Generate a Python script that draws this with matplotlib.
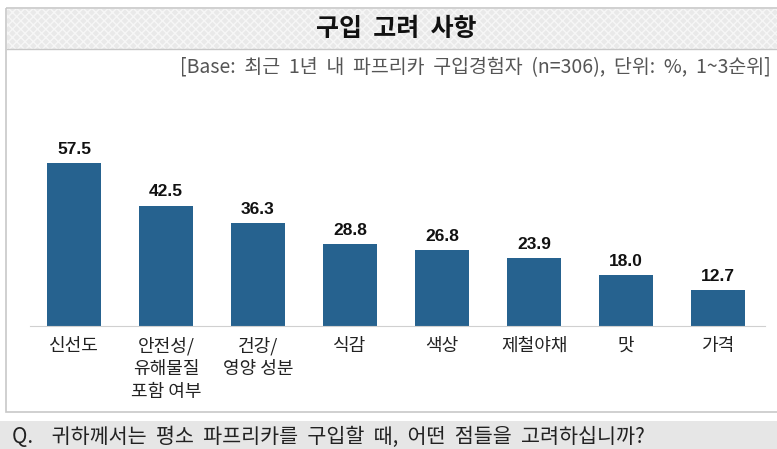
import matplotlib.pyplot as plt
from matplotlib.patches import Rectangle

# Chart data
categories = ['신선도', '안전성/\n유해물질\n포함 여부', '건강/\n영양 성분', '식감', '색상', '제철야채', '맛', '가격']
values = [57.5, 42.5, 36.3, 28.8, 26.8, 23.9, 18.0, 12.7]

title = '구입  고려  사항'
subtitle = '[Base:  최근  1년  내  파프리카  구입경험자  (n=306),  단위:  %,  1~3순위]'
question = 'Q.    귀하께서는  평소  파프리카를  구입할  때,  어떤  점들을  고려하십니까?'

plt.rcParams['font.family'] = ['Noto Sans CJK KR', 'DejaVu Sans']
bar_color = '#26628f'

W, H = 777, 449
fig = plt.figure(figsize=(W / 100, H / 100), dpi=100)

# helper: pixel rect (top-left origin) -> figure fraction
def frac(x0, y0, x1, y1):
    return [x0 / W, 1 - y1 / H, (x1 - x0) / W, (y1 - y0) / H]

# background decoration
bg = fig.add_axes([0, 0, 1, 1])
bg.set_xlim(0, W)
bg.set_ylim(H, 0)
bg.axis('off')
bg.add_patch(Rectangle((6, 8), 780, 404, fill=False, edgecolor='#c8c8c8', lw=1.2))
bg.add_patch(Rectangle((7, 9), 780, 40, facecolor='#e9e9e9', edgecolor='#f6f6f6',
                       hatch='xxxx', lw=0))
bg.plot([7, 777], [49, 49], color='#c8c8c8', lw=1)
bg.add_patch(Rectangle((0, 421), W, 30, facecolor='#e6e6e6', edgecolor='none'))
bg.text(396, 29, title, ha='center', va='center', fontsize=18, fontweight='bold', color='#111111')
bg.text(771, 68, subtitle, ha='right', va='center', fontsize=14, color='#555555')
bg.text(12, 437, question, ha='left', va='center', fontsize=14.9, color='#222222')

# bar chart
ax = fig.add_axes(frac(30, 326 - 70 * 2.835, 765, 326))
x = list(range(len(values)))
ax.bar(x, values, width=0.58, color=bar_color)
ax.set_xlim(-0.478, 7.51)
ax.set_ylim(0, 70)
for xi, v in zip(x, values):
    ax.text(xi, v + 2.2, f'{v:.1f}', ha='center', va='bottom', fontsize=12.5,
            fontweight='bold', family=['Liberation Sans'], color='#111111')
ax.set_xticks(x)
ax.set_xticklabels(categories, fontsize=13, color='#222222', linespacing=1.32, va='top')
ax.tick_params(axis='x', length=0, pad=8)
ax.set_yticks([])
for s in ['top', 'right', 'left']:
    ax.spines[s].set_visible(False)
ax.spines['bottom'].set_color('#d0d0d0')
ax.patch.set_alpha(0)

fig.savefig('out.png', dpi=100)
